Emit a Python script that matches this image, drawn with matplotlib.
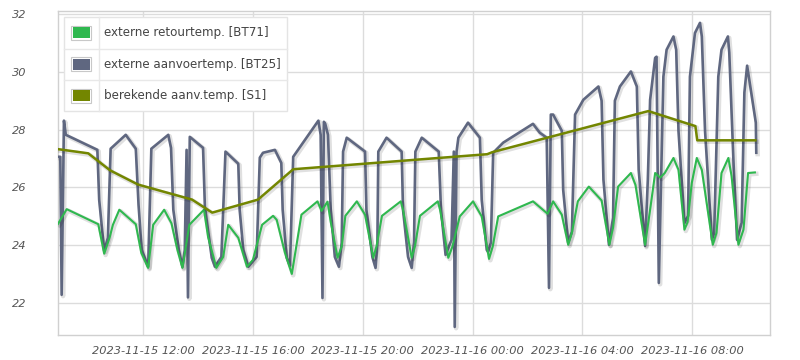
import matplotlib
matplotlib.use("Agg")
import matplotlib.pyplot as plt
import matplotlib.dates as mdates
import matplotlib.patheffects as pe
from matplotlib.patches import Rectangle
from matplotlib.lines import Line2D
import pandas as pd

# ---------------- data ----------------
bt25 = [  # externe aanvoertemp. [BT25]
    ("15 08:55", 27.06), ("15 08:59", 27.06), ("15 09:02", 22.29), ("15 09:07", 28.31),
    ("15 09:11", 27.82), ("15 10:20", 27.30), ("15 10:24", 25.57), ("15 10:35", 23.81),
    ("15 10:43", 24.26), ("15 10:49", 27.34), ("15 11:22", 27.82), ("15 11:44", 27.34),
    ("15 11:50", 25.40), ("15 11:57", 23.84), ("15 12:11", 23.26), ("15 12:18", 27.34),
    ("15 12:55", 27.82), ("15 13:01", 27.37), ("15 13:06", 25.23), ("15 13:18", 23.84),
    ("15 13:26", 23.26), ("15 13:31", 23.84), ("15 13:35", 27.30), ("15 13:38", 22.20),
    ("15 13:42", 27.75), ("15 14:11", 27.37), ("15 14:15", 25.33), ("15 14:30", 23.57),
    ("15 14:37", 23.26), ("15 14:51", 23.60), ("15 15:00", 27.24), ("15 15:28", 26.82),
    ("15 15:31", 25.23), ("15 15:39", 23.84), ("15 15:50", 23.26), ("15 16:08", 23.60),
    ("15 16:15", 27.03), ("15 16:22", 27.20), ("15 16:48", 27.30), ("15 17:02", 26.85),
    ("15 17:05", 25.23), ("15 17:14", 23.57), ("15 17:21", 23.29), ("15 17:28", 27.06),
    ("15 18:23", 28.31), ("15 18:28", 27.82), ("15 18:32", 22.18), ("15 18:35", 28.27),
    ("15 18:38", 28.20), ("15 18:44", 27.82), ("15 18:50", 25.23), ("15 18:59", 23.60),
    ("15 19:08", 23.26), ("15 19:14", 24.09), ("15 19:17", 27.24), ("15 19:25", 27.72),
    ("15 20:05", 27.24), ("15 20:08", 25.23), ("15 20:21", 23.60), ("15 20:28", 23.22),
    ("15 20:32", 24.09), ("15 20:34", 27.24), ("15 20:52", 27.72), ("15 21:25", 27.24),
    ("15 21:28", 25.23), ("15 21:39", 23.60), ("15 21:47", 23.22), ("15 21:52", 24.09),
    ("15 21:55", 27.24), ("15 22:09", 27.72), ("15 22:46", 27.24), ("15 22:51", 25.23),
    ("15 23:01", 23.67), ("15 23:14", 24.19), ("15 23:19", 27.24), ("15 23:21", 21.18),
    ("15 23:25", 27.24), ("15 23:29", 27.72), ("15 23:50", 28.24), ("16 00:16", 27.72),
    ("16 00:20", 25.57), ("16 00:31", 23.84), ("16 00:34", 23.78), ("16 00:40", 24.09),
    ("16 00:45", 27.20), ("16 01:07", 27.55), ("16 02:12", 28.20), ("16 02:27", 27.89),
    ("16 02:42", 27.72), ("16 02:47", 22.53), ("16 02:51", 28.52), ("16 02:56", 28.52),
    ("16 03:15", 27.96), ("16 03:18", 25.92), ("16 03:29", 24.09), ("16 03:37", 24.47),
    ("16 03:44", 28.52), ("16 04:02", 29.03), ("16 04:35", 29.49), ("16 04:42", 29.00),
    ("16 04:46", 26.27), ("16 04:58", 24.02), ("16 05:07", 24.95), ("16 05:11", 29.00),
    ("16 05:22", 29.49), ("16 05:46", 30.01), ("16 05:59", 29.49), ("16 06:03", 26.61),
    ("16 06:17", 23.98), ("16 06:23", 26.27), ("16 06:28", 29.03), ("16 06:39", 30.48),
    ("16 06:42", 30.52), ("16 06:47", 22.70), ("16 06:57", 29.83), ("16 07:04", 30.76),
    ("16 07:19", 31.22), ("16 07:25", 30.76), ("16 07:30", 27.96), ("16 07:43", 24.77),
    ("16 07:51", 25.02), ("16 07:55", 29.83), ("16 08:06", 31.34), ("16 08:17", 31.69),
    ("16 08:21", 31.22), ("16 08:28", 27.96), ("16 08:43", 24.19), ("16 08:48", 24.43),
    ("16 08:57", 29.83), ("16 09:04", 30.76), ("16 09:18", 31.22), ("16 09:21", 30.66),
    ("16 09:30", 26.96), ("16 09:38", 24.19), ("16 09:48", 24.78), ("16 09:54", 29.28),
    ("16 10:00", 30.21), ("16 10:19", 28.24), ("16 10:20", 27.20),
]

bt71 = [  # externe retourtemp. [BT71]
    ("15 08:54", 24.74), ("15 09:13", 25.25), ("15 10:22", 24.73), ("15 10:35", 23.71),
    ("15 10:47", 24.28), ("15 10:54", 24.71), ("15 11:08", 25.23), ("15 11:44", 24.73),
    ("15 11:56", 23.74), ("15 12:11", 23.22), ("15 12:22", 24.71), ("15 12:46", 25.23),
    ("15 13:02", 24.76), ("15 13:15", 23.84), ("15 13:26", 23.22), ("15 13:41", 24.71),
    ("15 14:13", 25.23), ("15 14:22", 24.29), ("15 14:40", 23.22), ("15 14:55", 23.60),
    ("15 15:06", 24.71), ("15 15:28", 24.26), ("15 15:47", 23.26), ("15 16:00", 23.50),
    ("15 16:20", 24.71), ("15 16:44", 25.02), ("15 16:52", 24.88), ("15 17:10", 23.74),
    ("15 17:25", 23.01), ("15 17:46", 25.06), ("15 18:21", 25.52), ("15 18:30", 25.19),
    ("15 18:43", 25.51), ("15 18:50", 24.81), ("15 19:05", 23.57), ("15 19:14", 23.96),
    ("15 19:22", 25.02), ("15 19:47", 25.52), ("15 20:05", 25.06), ("15 20:23", 23.57),
    ("15 20:30", 23.96), ("15 20:42", 25.02), ("15 21:23", 25.52), ("15 21:28", 25.23),
    ("15 21:47", 23.57), ("15 21:54", 23.96), ("15 22:05", 25.02), ("15 22:44", 25.52),
    ("15 22:49", 25.23), ("15 23:07", 23.57), ("15 23:16", 23.96), ("15 23:32", 25.00),
    ("16 00:01", 25.52), ("16 00:20", 25.00), ("16 00:36", 23.53), ("16 00:44", 23.96),
    ("16 00:56", 25.00), ("16 02:12", 25.52), ("16 02:44", 25.09), ("16 02:56", 25.52),
    ("16 03:15", 25.06), ("16 03:29", 24.02), ("16 03:37", 24.43), ("16 03:50", 25.52),
    ("16 04:14", 26.03), ("16 04:42", 25.55), ("16 04:59", 24.02), ("16 05:07", 24.61),
    ("16 05:18", 26.03), ("16 05:46", 26.50), ("16 05:56", 26.09), ("16 06:17", 24.02),
    ("16 06:28", 25.23), ("16 06:39", 26.50), ("16 06:50", 26.34), ("16 07:00", 26.50),
    ("16 07:19", 27.02), ("16 07:30", 26.61), ("16 07:43", 24.54), ("16 07:50", 24.81),
    ("16 07:59", 26.15), ("16 08:10", 27.02), ("16 08:21", 26.61), ("16 08:45", 24.02),
    ("16 08:53", 24.43), ("16 09:04", 26.50), ("16 09:19", 27.02), ("16 09:26", 26.40),
    ("16 09:41", 24.02), ("16 09:52", 24.54), ("16 10:02", 26.50), ("16 10:17", 26.52),
]

s1 = [  # berekende aanv.temp. [S1]
    ("15 08:56", 27.32), ("15 10:00", 27.18), ("15 10:48", 26.59), ("15 11:49", 26.10),
    ("15 13:47", 25.58), ("15 14:31", 25.13), ("15 16:11", 25.58), ("15 17:28", 26.63),
    ("16 00:32", 27.15), ("16 00:43", 27.22), ("16 06:24", 28.64), ("16 08:07", 28.12),
    ("16 08:11", 27.63), ("16 10:18", 27.63),
]

series_labels = ["externe retourtemp. [BT71]", "externe aanvoertemp. [BT25]",
                 "berekende aanv.temp. [S1]"]
series_colors = ["#2fb84f", "#5f6780", "#738600"]
y_ticks = [22, 24, 26, 28, 30, 32]
x_range = ("2023-11-15 08:54", "2023-11-16 10:50")
y_range = (20.9, 32.1)


def split(pairs):
    t = pd.to_datetime(["2023-11-" + p[0] for p in pairs])
    v = [p[1] for p in pairs]
    return t, v


W, H = 800, 360
fig = plt.figure(figsize=(W / 100, H / 100), dpi=100)
fig.patch.set_facecolor("white")


def fx(x):
    return x / W


def fy(y):
    return 1 - y / H


ax = fig.add_axes([fx(58), fy(335), fx(770) - fx(58), fy(11) - fy(335)])

shadow = [pe.SimpleLineShadow(offset=(1, -1), shadow_color="#000000", alpha=0.12,
                              linewidth=3.2), pe.Normal()]

t, v = split(bt25)
ax.plot(t, v, color=series_colors[1], lw=1.9, zorder=3, solid_joinstyle="round",
        path_effects=shadow)
t, v = split(bt71)
ax.plot(t, v, color=series_colors[0], lw=1.5, zorder=4, solid_joinstyle="round",
        path_effects=shadow)
t, v = split(s1)
ax.plot(t, v, color=series_colors[2], lw=1.8, zorder=5, solid_joinstyle="round",
        path_effects=shadow)

ax.set_xlim(pd.Timestamp(x_range[0]), pd.Timestamp(x_range[1]))
ax.set_ylim(*y_range)
ax.set_yticks(y_ticks)
ax.xaxis.set_major_locator(mdates.HourLocator(byhour=[0, 4, 8, 12, 16, 20]))
ax.xaxis.set_major_formatter(mdates.DateFormatter("%Y-%m-%d %H:%M"))
ax.grid(True, color="#dcdcdc", lw=1.0)
ax.set_axisbelow(True)
for s in ax.spines.values():
    s.set_color("#d0d0d0")
    s.set_linewidth(1.0)
ax.tick_params(length=0, colors="#555555", labelsize=8.2)
ax.tick_params(axis="y", pad=23)
ax.tick_params(axis="x", pad=8)
for lab in ax.get_xticklabels() + ax.get_yticklabels():
    lab.set_fontstyle("italic")
    lab.set_color("#555555")

# ---------------- legend (table-like box) ----------------
lx0, lx1, ly0, ly1 = 64, 287, 17, 111
rows = [17, 48.5, 80, 111]
fig.add_artist(Rectangle((fx(lx0), fy(ly1)), fx(lx1) - fx(lx0), fy(ly0) - fy(ly1),
                         transform=fig.transFigure, facecolor="white",
                         edgecolor="#e4e4e4", lw=1.0, zorder=10))
fig.add_artist(Line2D([fx(98.5), fx(98.5)], [fy(ly0), fy(ly1)], transform=fig.transFigure,
                      color="#e8e8e8", lw=1.0, zorder=11))
for yy in rows[1:-1]:
    fig.add_artist(Line2D([fx(lx0), fx(lx1)], [fy(yy), fy(yy)], transform=fig.transFigure,
                          color="#e8e8e8", lw=1.0, zorder=11))
for i, (lab, col) in enumerate(zip(series_labels, series_colors)):
    cy = (rows[i] + rows[i + 1]) / 2
    fig.add_artist(Rectangle((fx(71), fy(cy + 7)), fx(91) - fx(71), fy(cy - 7) - fy(cy + 7),
                             transform=fig.transFigure, facecolor="white",
                             edgecolor="#c8c8c8", lw=0.8, zorder=12))
    fig.add_artist(Rectangle((fx(72.5), fy(cy + 5.5)), fx(89.5) - fx(72.5),
                             fy(cy - 5.5) - fy(cy + 5.5),
                             transform=fig.transFigure, facecolor=col,
                             edgecolor="none", zorder=13))
    fig.text(fx(104.5), fy(cy), lab, ha="left", va="center", fontsize=8.6,
             color="#444444", zorder=14)

fig.savefig("out.png", dpi=100, facecolor="white")
